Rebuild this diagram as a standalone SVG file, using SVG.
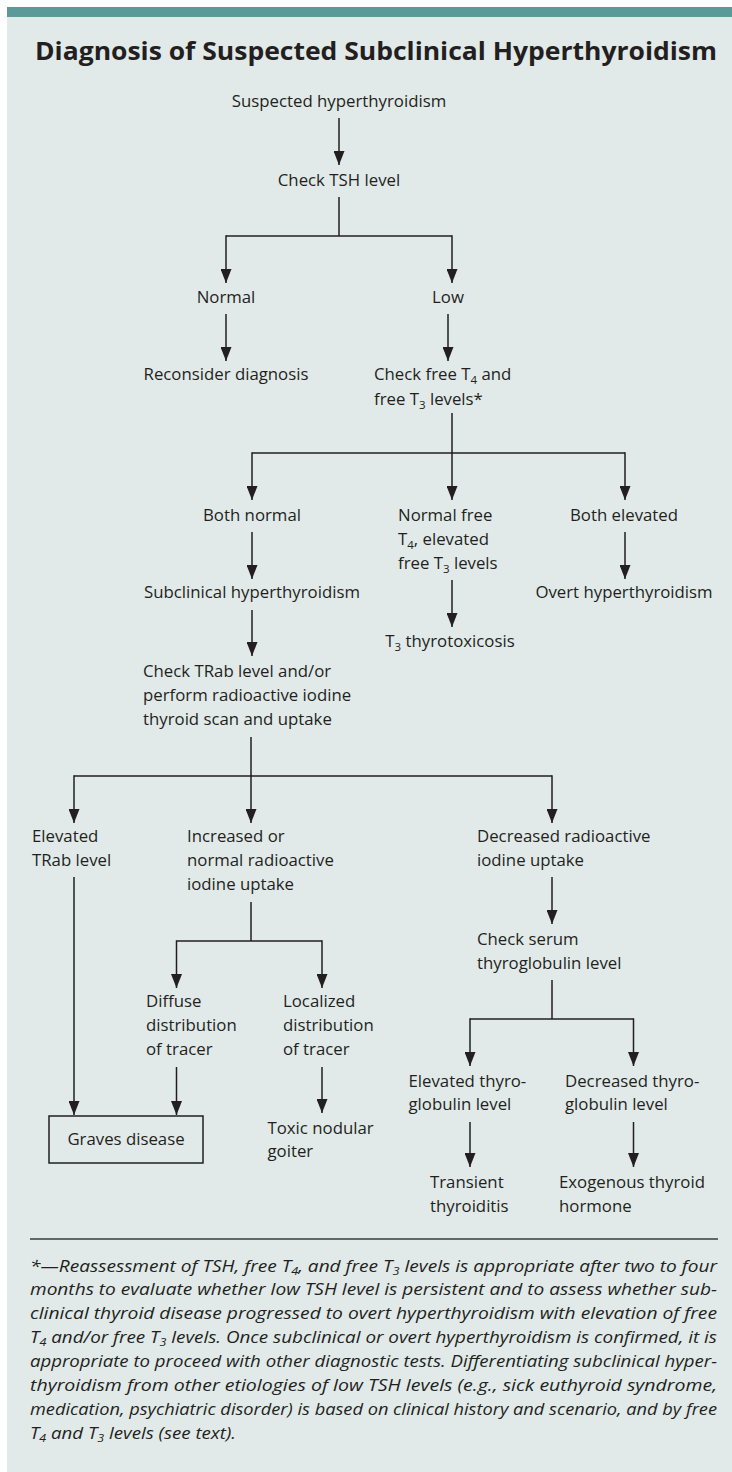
<svg xmlns="http://www.w3.org/2000/svg" width="732" height="1472" viewBox="0 0 732 1472">
<style>
.t{font-family:"Open Sans","Noto Sans","Liberation Sans",sans-serif;font-size:16.8px;fill:#231f20}
.m{text-anchor:middle}
.sb{font-size:11.5px}
.fn{font-family:"Open Sans","Noto Sans","Liberation Sans",sans-serif;font-size:16.5px;font-style:italic;fill:#231f20}
.fs{font-size:11px}
.ln{fill:none;stroke:#231f20;stroke-width:1.5}
.ar{fill:none;stroke:#231f20;stroke-width:1.5;marker-end:url(#ah)}
</style>
<defs>
<marker id="ah" markerUnits="userSpaceOnUse" viewBox="0 -5.5 14 11" refX="14" refY="0" markerWidth="14" markerHeight="11" orient="auto">
<path d="M0,-5.5 L14,0 L0,5.5 Z" fill="#231f20"/>
</marker>
</defs>
<rect x="0" y="0" width="732" height="1472" fill="#ffffff"/>
<rect x="7" y="17" width="725" height="1455" fill="#e1eae9"/>
<rect x="7" y="7" width="725" height="10" fill="#5b9a98"/>
<text x="35" y="60" textLength="682" lengthAdjust="spacingAndGlyphs" style="font-family:'Open Sans','Noto Sans','Liberation Sans',sans-serif;font-size:25px;font-weight:700;fill:#231f20">Diagnosis of Suspected Subclinical Hyperthyroidism</text>

<g id="connectors">
<line class="ar" x1="339" y1="118" x2="339" y2="165"/>
<polyline class="ln" points="339,197 339,236"/>
<polyline class="ln" points="226,236 452,236"/>
<line class="ar" x1="226" y1="235.3" x2="226" y2="283"/>
<line class="ar" x1="452" y1="235.3" x2="452" y2="283"/>
<line class="ar" x1="226" y1="314" x2="226" y2="361"/>
<line class="ar" x1="448" y1="314" x2="448" y2="361"/>
<polyline class="ln" points="452,413 452,453"/>
<polyline class="ln" points="252,453 625,453"/>
<line class="ar" x1="252" y1="452.3" x2="252" y2="500"/>
<line class="ar" x1="452" y1="452.3" x2="452" y2="500"/>
<line class="ar" x1="625" y1="452.3" x2="625" y2="500"/>
<line class="ar" x1="252" y1="532" x2="252" y2="579"/>
<line class="ar" x1="625" y1="532" x2="625" y2="579"/>
<line class="ar" x1="452" y1="580" x2="452" y2="627"/>
<line class="ar" x1="252" y1="610" x2="252" y2="656"/>
<polyline class="ln" points="251,737 251,776"/>
<polyline class="ln" points="74,776 552,776"/>
<line class="ar" x1="74" y1="775.3" x2="74" y2="823"/>
<line class="ar" x1="251" y1="775.3" x2="251" y2="823"/>
<line class="ar" x1="552" y1="775.3" x2="552" y2="823"/>
<line class="ar" x1="74" y1="877" x2="74" y2="1115"/>
<polyline class="ln" points="251,902 251,941"/>
<polyline class="ln" points="176.5,941 322,941"/>
<line class="ar" x1="176.5" y1="940.3" x2="176.5" y2="988"/>
<line class="ar" x1="322" y1="940.3" x2="322" y2="988"/>
<line class="ar" x1="552" y1="877" x2="552" y2="924"/>
<polyline class="ln" points="552,980 552,1019"/>
<polyline class="ln" points="470,1019 633.5,1019"/>
<line class="ar" x1="470" y1="1018.3" x2="470" y2="1066"/>
<line class="ar" x1="633.5" y1="1018.3" x2="633.5" y2="1066"/>
<line class="ar" x1="176.5" y1="1067" x2="176.5" y2="1115"/>
<line class="ar" x1="322" y1="1067" x2="322" y2="1113"/>
<line class="ar" x1="470" y1="1122" x2="470" y2="1167"/>
<line class="ar" x1="633.5" y1="1122" x2="633.5" y2="1167"/>
</g>

<g id="n-suspected"><text class="t m" x="339" y="107">Suspected hyperthyroidism</text></g>
<g id="n-checktsh"><text class="t m" x="339" y="186">Check TSH level</text></g>
<g id="n-normal"><text class="t m" x="226" y="303">Normal</text></g>
<g id="n-low"><text class="t m" x="448" y="303">Low</text></g>
<g id="n-reconsider"><text class="t m" x="226" y="380">Reconsider diagnosis</text></g>
<g id="n-checkfree">
<text class="t" x="374" y="380">Check free T<tspan class="sb" dy="4">4</tspan><tspan dy="-4"> and</tspan></text>
<text class="t" x="374" y="405">free T<tspan class="sb" dy="4">3</tspan><tspan dy="-4"> levels*</tspan></text>
</g>
<g id="n-bothnormal"><text class="t m" x="252" y="521">Both normal</text></g>
<g id="n-normalfree">
<text class="t" x="398" y="521">Normal free</text>
<text class="t" x="398" y="545">T<tspan class="sb" dy="4">4</tspan><tspan dy="-4">, elevated</tspan></text>
<text class="t" x="398" y="569">free T<tspan class="sb" dy="4">3</tspan><tspan dy="-4"> levels</tspan></text>
</g>
<g id="n-bothelevated"><text class="t m" x="624" y="521">Both elevated</text></g>
<g id="n-subclinical"><text class="t m" x="252" y="598">Subclinical hyperthyroidism</text></g>
<g id="n-overt"><text class="t m" x="624" y="598">Overt hyperthyroidism</text></g>
<g id="n-t3"><text class="t m" x="450" y="647">T<tspan class="sb" dy="4">3</tspan><tspan dy="-4"> thyrotoxicosis</tspan></text></g>
<g id="n-checktrab">
<text class="t" x="143" y="677">Check TRab level and/or</text>
<text class="t" x="143" y="701">perform radioactive iodine</text>
<text class="t" x="143" y="725">thyroid scan and uptake</text>
</g>
<g id="n-elevatedtrab">
<text class="t" x="32" y="842">Elevated</text>
<text class="t" x="32" y="866">TRab level</text>
</g>
<g id="n-increased">
<text class="t" x="187" y="842">Increased or</text>
<text class="t" x="187" y="866">normal radioactive</text>
<text class="t" x="187" y="890">iodine uptake</text>
</g>
<g id="n-decreased">
<text class="t" x="477" y="842">Decreased radioactive</text>
<text class="t" x="477" y="866">iodine uptake</text>
</g>
<g id="n-checkserum">
<text class="t" x="477" y="945">Check serum</text>
<text class="t" x="477" y="969">thyroglobulin level</text>
</g>
<g id="n-diffuse">
<text class="t" x="146" y="1007">Diffuse</text>
<text class="t" x="146" y="1031">distribution</text>
<text class="t" x="146" y="1055">of tracer</text>
</g>
<g id="n-localized">
<text class="t" x="283" y="1007">Localized</text>
<text class="t" x="283" y="1031">distribution</text>
<text class="t" x="283" y="1055">of tracer</text>
</g>
<g id="n-graves">
<rect x="49" y="1116" width="154" height="47" fill="none" stroke="#231f20" stroke-width="1.5"/>
<text class="t m" x="126" y="1145">Graves disease</text>
</g>
<g id="n-toxic">
<text class="t" x="267.5" y="1134">Toxic nodular</text>
<text class="t" x="267.5" y="1157">goiter</text>
</g>
<g id="n-elevthyro">
<text class="t" x="408.5" y="1087">Elevated thyro-</text>
<text class="t" x="408.5" y="1110">globulin level</text>
</g>
<g id="n-decthyro">
<text class="t" x="565" y="1087">Decreased thyro-</text>
<text class="t" x="565" y="1110">globulin level</text>
</g>
<g id="n-transient">
<text class="t" x="430" y="1188">Transient</text>
<text class="t" x="430" y="1212">thyroiditis</text>
</g>
<g id="n-exogenous">
<text class="t" x="559" y="1188">Exogenous thyroid</text>
<text class="t" x="559" y="1212">hormone</text>
</g>

<g id="footnote">
<line x1="30" y1="1239" x2="718" y2="1239" stroke="#3a3a3a" stroke-width="1.5"/>
<text class="fn" x="30" y="1272" textLength="687" lengthAdjust="spacingAndGlyphs">*—Reassessment of TSH, free T<tspan class="fs" dy="3">4</tspan><tspan dy="-3">, and free T</tspan><tspan class="fs" dy="3">3</tspan><tspan dy="-3"> levels is appropriate after two to four</tspan></text>
<text class="fn" x="30" y="1295" textLength="687" lengthAdjust="spacingAndGlyphs">months to evaluate whether low TSH level is persistent and to assess whether sub-</text>
<text class="fn" x="30" y="1319" textLength="687" lengthAdjust="spacingAndGlyphs">clinical thyroid disease progressed to overt hyperthyroidism with elevation of free</text>
<text class="fn" x="30" y="1343" textLength="687" lengthAdjust="spacingAndGlyphs">T<tspan class="fs" dy="3">4</tspan><tspan dy="-3"> and/or free T</tspan><tspan class="fs" dy="3">3</tspan><tspan dy="-3"> levels. Once subclinical or overt hyperthyroidism is confirmed, it is</tspan></text>
<text class="fn" x="30" y="1367" textLength="687" lengthAdjust="spacingAndGlyphs">appropriate to proceed with other diagnostic tests. Differentiating subclinical hyper-</text>
<text class="fn" x="30" y="1391" textLength="687" lengthAdjust="spacingAndGlyphs">thyroidism from other etiologies of low TSH levels (e.g., sick euthyroid syndrome,</text>
<text class="fn" x="30" y="1415" textLength="687" lengthAdjust="spacingAndGlyphs">medication, psychiatric disorder) is based on clinical history and scenario, and by free</text>
<text class="fn" x="30" y="1439" textLength="206" lengthAdjust="spacingAndGlyphs">T<tspan class="fs" dy="3">4</tspan><tspan dy="-3"> and T</tspan><tspan class="fs" dy="3">3</tspan><tspan dy="-3"> levels (see text).</tspan></text>
</g>
</svg>
